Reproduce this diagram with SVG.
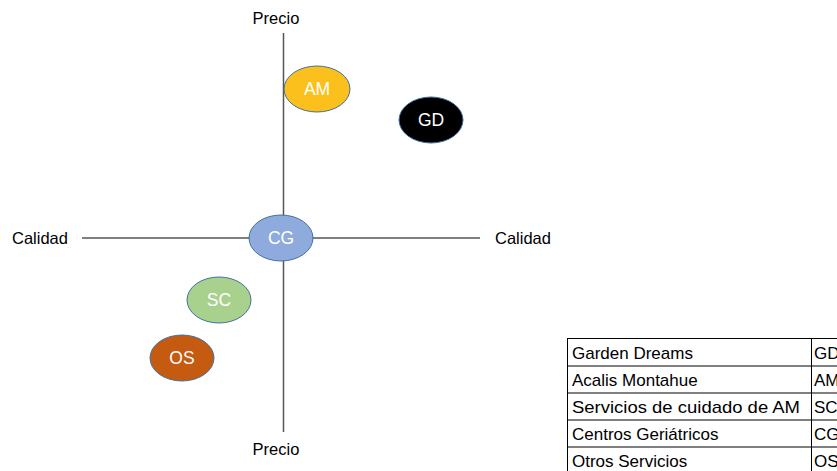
<svg xmlns="http://www.w3.org/2000/svg" width="837" height="471" viewBox="0 0 837 471">
<style>
.lbl{font-family:"Liberation Sans",Arial,sans-serif;font-size:16.5px;fill:#000}
.node ellipse{stroke:#41719C;stroke-width:1}
.node text{font-family:"Liberation Sans",Arial,sans-serif;font-size:17.5px;fill:#fff;text-anchor:middle;dominant-baseline:central}
.axis{stroke:#555;stroke-width:1.5}
.tbl rect,.tbl line{stroke:#000;stroke-width:1;fill:none}
.tbl text{font-family:"Liberation Sans",Arial,sans-serif;font-size:17px;fill:#000}
</style>
<rect width="837" height="471" fill="#fff"/>
<g id="connectors">
<line class="axis" x1="283.5" y1="33" x2="283.5" y2="432"/>
<line class="axis" x1="82" y1="238" x2="480" y2="238" stroke="#222"/>
</g>
<g id="axis-labels">
<text class="lbl" x="276" y="24" text-anchor="middle">Precio</text>
<text class="lbl" x="276" y="455" text-anchor="middle">Precio</text>
<text class="lbl" x="40" y="244" text-anchor="middle">Calidad</text>
<text class="lbl" x="523" y="244" text-anchor="middle">Calidad</text>
</g>
<g id="AM" class="node"><ellipse cx="317" cy="89" rx="33" ry="23" fill="#FBC01B"/><text x="317" y="89">AM</text></g>
<g id="GD" class="node"><ellipse cx="431" cy="120" rx="32" ry="23" fill="#000"/><text x="431" y="120">GD</text></g>
<g id="CG" class="node"><ellipse cx="281" cy="238" rx="32" ry="23" fill="#8FAADC"/><text x="281" y="238">CG</text></g>
<g id="SC" class="node"><ellipse cx="219" cy="300" rx="32" ry="23" fill="#A9D18E"/><text x="219" y="300">SC</text></g>
<g id="OS" class="node"><ellipse cx="182" cy="358" rx="32" ry="23" fill="#C55A11"/><text x="182" y="358">OS</text></g>
<g id="legend" class="tbl">
<rect x="567.5" y="338.5" width="280" height="140"/>
<line x1="811.5" y1="338.5" x2="811.5" y2="471"/>
<line x1="567.5" y1="366" x2="837" y2="366"/>
<line x1="567.5" y1="393" x2="837" y2="393"/>
<line x1="567.5" y1="420" x2="837" y2="420"/>
<line x1="567.5" y1="447" x2="837" y2="447"/>
<text x="572" y="359">Garden Dreams</text><text x="814" y="359">GD</text>
<text x="572" y="386">Acalis Montahue</text><text x="814" y="386">AM</text>
<text x="572" y="413" textLength="228" lengthAdjust="spacingAndGlyphs">Servicios de cuidado de AM</text><text x="814" y="413">SC</text>
<text x="572" y="440">Centros Geriátricos</text><text x="814" y="440">CG</text>
<text x="572" y="467">Otros Servicios</text><text x="814" y="467">OS</text>
</g>
</svg>
